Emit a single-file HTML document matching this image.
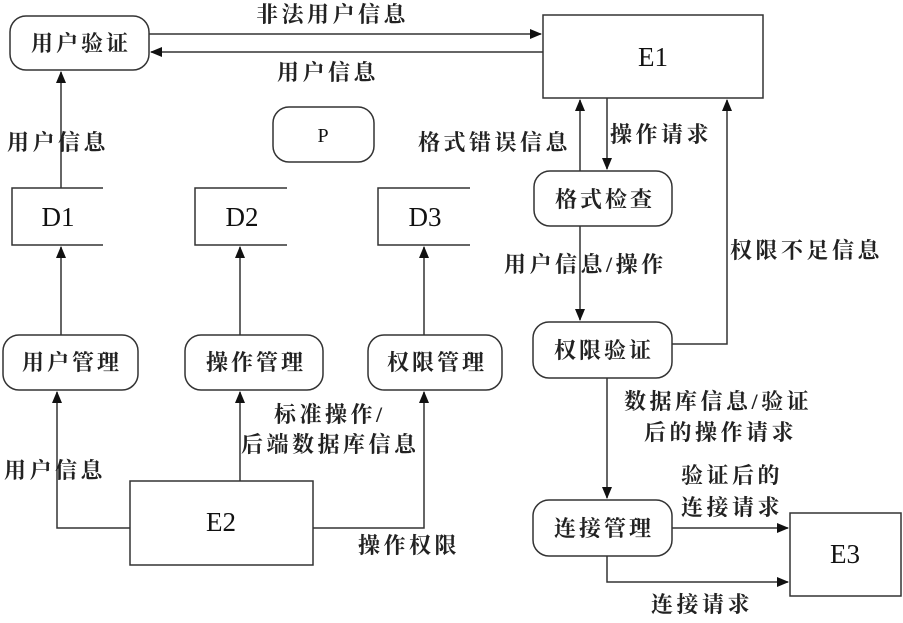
<!DOCTYPE html>
<html><head><meta charset="utf-8"><style>
body{margin:0;background:#fff}
svg text{font-family:"Liberation Serif","Noto Serif CJK SC",serif;font-weight:bold;fill:#222}
svg .n text{font-weight:normal;fill:#111}
</style></head><body>
<svg width="903" height="618" viewBox="0 0 903 618" xmlns="http://www.w3.org/2000/svg">
<defs><marker id="a" markerWidth="12" markerHeight="10" refX="11" refY="5" orient="auto" markerUnits="userSpaceOnUse"><path d="M0,0 L12,5 L0,10 z" fill="#111"/></marker></defs>
<g fill="none" stroke="#333" stroke-width="1.5">
<rect x="10" y="16" width="139" height="54" rx="16"/>
<rect x="273" y="107" width="101" height="55" rx="16"/>
<rect x="543" y="15" width="220" height="83"/>
<rect x="534" y="171" width="138" height="55" rx="16"/>
<rect x="533" y="322" width="139" height="56" rx="16"/>
<rect x="533" y="500" width="139" height="56" rx="16"/>
<rect x="790" y="513" width="111" height="83"/>
<rect x="3" y="335" width="135" height="55" rx="16"/>
<rect x="185" y="335" width="138" height="55" rx="16"/>
<rect x="368" y="335" width="134" height="55" rx="16"/>
<rect x="130" y="481" width="183" height="84"/>
<path d="M103,188 H12 V245 H103"/>
<path d="M287,188 H195 V245 H287"/>
<path d="M470,188 H378 V245 H470"/>
<path d="M149,34 H541" marker-end="url(#a)"/>
<path d="M543,52 H151" marker-end="url(#a)"/>
<path d="M61,188 V72" marker-end="url(#a)"/>
<path d="M61,335 V247" marker-end="url(#a)"/>
<path d="M240,335 V247" marker-end="url(#a)"/>
<path d="M424,335 V247" marker-end="url(#a)"/>
<path d="M130,528 H57 V392" marker-end="url(#a)"/>
<path d="M240,481 V392" marker-end="url(#a)"/>
<path d="M313,528 H424 V392" marker-end="url(#a)"/>
<path d="M607,98 V169" marker-end="url(#a)"/>
<path d="M580,171 V100" marker-end="url(#a)"/>
<path d="M580,226 V320" marker-end="url(#a)"/>
<path d="M672,344 H727 V100" marker-end="url(#a)"/>
<path d="M607,378 V498" marker-end="url(#a)"/>
<path d="M672,528 H788" marker-end="url(#a)"/>
<path d="M607,556 V582 H788" marker-end="url(#a)"/>
</g>
<g font-size="22" text-anchor="middle" letter-spacing="3">
<text x="81" y="51">用户验证</text>
<text x="605" y="207">格式检查</text>
<text x="604" y="358">权限验证</text>
<text x="604" y="536">连接管理</text>
<text x="72" y="370">用户管理</text>
<text x="256" y="370">操作管理</text>
<text x="437" y="370">权限管理</text>
</g>
<g class="n" font-size="27" text-anchor="middle">
<text x="323" y="142" font-size="20">P</text>
<text x="653" y="66">E1</text>
<text x="845" y="563">E3</text>
<text x="221" y="531">E2</text>
<text x="58" y="226">D1</text>
<text x="242" y="226">D2</text>
<text x="425" y="226">D3</text>
</g>
<g font-size="22" letter-spacing="3.5">
<text x="256" y="22">非法用户信息</text>
<text x="277" y="80">用户信息</text>
<text x="7" y="150">用户信息</text>
<text x="418" y="150">格式错误信息</text>
<text x="610" y="142">操作请求</text>
<text x="504" y="272">用户信息/操作</text>
<text x="730" y="258">权限不足信息</text>
<text x="624" y="409">数据库信息/验证</text>
<text x="644" y="440">后的操作请求</text>
<text x="681" y="483">验证后的</text>
<text x="681" y="515">连接请求</text>
<text x="651" y="612">连接请求</text>
<text x="274" y="422">标准操作/</text>
<text x="241" y="452">后端数据库信息</text>
<text x="4" y="478">用户信息</text>
<text x="358" y="553">操作权限</text>
</g>
</svg>
</body></html>
